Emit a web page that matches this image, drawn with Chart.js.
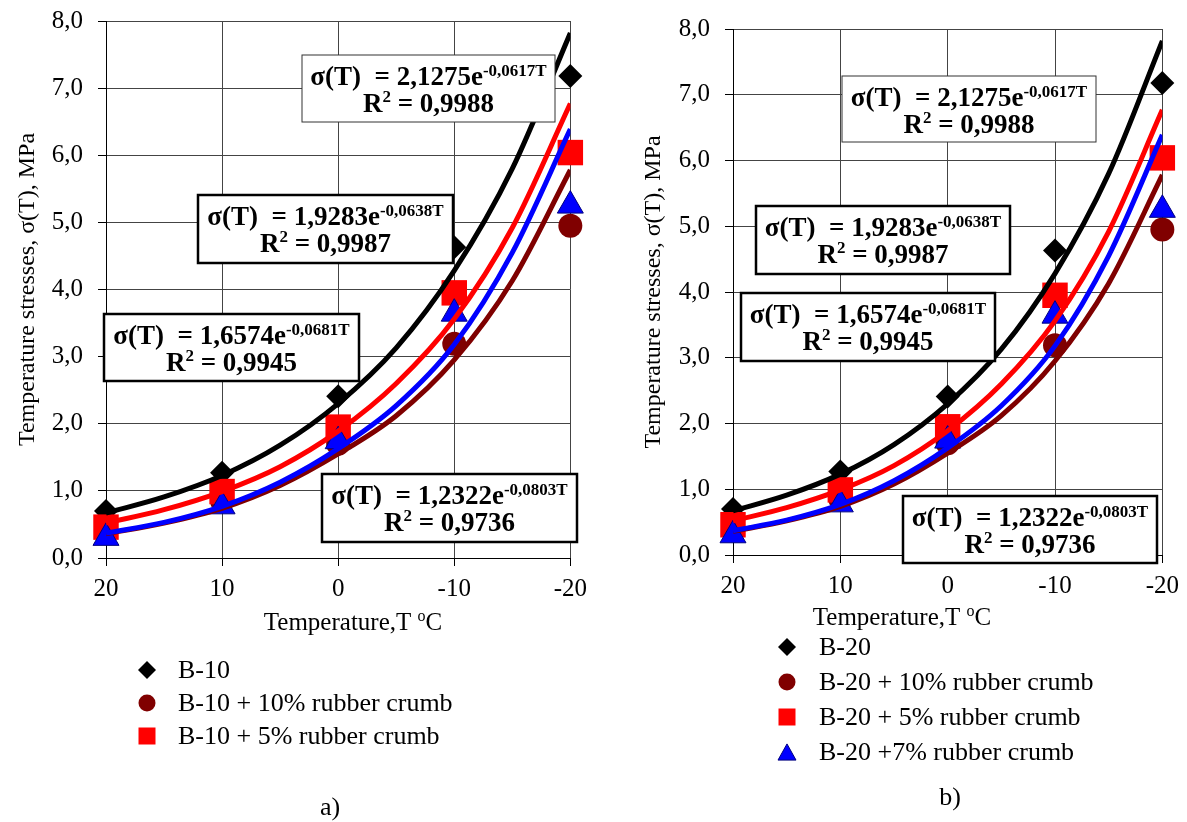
<!DOCTYPE html>
<html><head><meta charset="utf-8">
<script src="https://cdn.jsdelivr.net/npm/chart.js@4.4.0/dist/chart.umd.min.js"></script>
<style>
html,body{margin:0;padding:0;background:#fff;}
#wrap{position:relative;width:1187px;height:822px;overflow:hidden;background:#fff;}
.pane{position:absolute;top:0;height:822px;}
</style></head><body>
<div id="wrap">
<div class="pane" style="left:0;width:595px"><canvas id="cA"></canvas></div>
<div class="pane" style="left:595px;width:592px"><canvas id="cB"></canvas></div>
</div>
<script>
// ---- data ----
const temperatures = [20, 10, 0, -10, -20];
const stressBase   = [0.70, 1.27, 2.41, 4.63, 7.18];
const stress10     = [0.40, 0.85, 1.70, 3.19, 4.95];
const stress5      = [0.46, 0.99, 1.95, 3.95, 6.04];
const stress7      = [0.30, 0.77, 1.74, 3.64, 5.25];

const trendTemps = [20, 15, 10, 5, 0, -5, -10, -15, -20];
const trendBase  = [0.67, 0.91, 1.23, 1.68, 2.30, 3.13, 4.28, 5.80, 7.82];
const trend10    = [0.36, 0.52, 0.74, 1.08, 1.55, 2.12, 2.95, 4.13, 5.78];
const trend5     = [0.52, 0.72, 0.99, 1.36, 1.89, 2.60, 3.56, 4.92, 6.77];
const trend7     = [0.37, 0.53, 0.77, 1.13, 1.63, 2.27, 3.18, 4.55, 6.39];

const xTickValues = [20, 10, 0, -10, -20];
const yTickValues = [0, 1, 2, 3, 4, 5, 6, 7, 8];

const eqCoefs = ['2,1275', '1,9283', '1,6574', '1,2322'];
const eqExps  = ['-0,0617', '-0,0638', '-0,0681', '-0,0803'];
const eqR2    = ['0,9988', '0,9987', '0,9945', '0,9736'];

const legendA = ['B-10', 'B-10 + 10% rubber crumb', 'B-10 + 5% rubber crumb'];
const legendB = ['B-20', 'B-20 + 10% rubber crumb', 'B-20 + 5% rubber crumb', 'B-20 +7% rubber crumb'];

// ---- helpers ----
const FONT = '"Liberation Serif", "Times New Roman", serif';
const pts = (xs, ys) => xs.map((x, i) => ({x: x, y: ys[i]}));

function drawMarker(ctx, style, x, y, r, fill, stroke, lw) {
  ctx.save();
  ctx.beginPath();
  if (style === 'rectRot') {
    ctx.moveTo(x, y - r); ctx.lineTo(x + r, y); ctx.lineTo(x, y + r); ctx.lineTo(x - r, y); ctx.closePath();
  } else if (style === 'circle') {
    ctx.arc(x, y, r, 0, Math.PI * 2);
  } else if (style === 'rect') {
    ctx.rect(x - r, y - r, 2 * r, 2 * r);
  } else if (style === 'triangle') {
    const h = r * 1.8;
    ctx.moveTo(x, y - h / 2); ctx.lineTo(x + r, y + h / 2); ctx.lineTo(x - r, y + h / 2); ctx.closePath();
  }
  ctx.fillStyle = fill; ctx.fill();
  if (lw) { ctx.lineWidth = lw; ctx.strokeStyle = stroke; ctx.stroke(); }
  ctx.restore();
}

const decorPlugin = {
  id: 'decor',
  afterDraw(chart) {
    const o = chart.options.plugins.decor;
    const ctx = chart.ctx;
    const ox = o.offsetX;
    ctx.save();
    // equation boxes
    o.boxes.forEach((b, i) => {
      const x1 = b[0] - ox, y1 = b[1], x2 = b[2] - ox, y2 = b[3], lw = b[4];
      ctx.fillStyle = '#fff';
      ctx.fillRect(x1, y1, x2 - x1, y2 - y1);
      ctx.lineWidth = lw;
      ctx.strokeStyle = lw > 1.5 ? '#000' : '#333';
      ctx.strokeRect(x1, y1, x2 - x1, y2 - y1);
      const cx = (x1 + x2) / 2;
      ctx.fillStyle = '#000';
      ctx.textBaseline = 'alphabetic';
      ctx.textAlign = 'left';
      const main = 'σ(T)  = ' + eqCoefs[i] + 'e';
      const sup = eqExps[i] + 'T';
      ctx.font = 'bold 27px ' + FONT;
      const wMain = ctx.measureText(main).width;
      ctx.font = 'bold 17px ' + FONT;
      const wSup = ctx.measureText(sup).width;
      let sx = cx - (wMain + wSup) / 2;
      ctx.font = 'bold 27px ' + FONT;
      ctx.fillText(main, sx, y1 + 30);
      ctx.font = 'bold 17px ' + FONT;
      ctx.fillText(sup, sx + wMain, y1 + 21);
      // R2 line
      ctx.font = 'bold 27px ' + FONT;
      const wR = ctx.measureText('R').width;
      const rest = ' = ' + eqR2[i];
      const wRest = ctx.measureText(rest).width;
      ctx.font = 'bold 17px ' + FONT;
      const w2 = ctx.measureText('2').width;
      sx = cx - (wR + w2 + wRest) / 2;
      ctx.font = 'bold 27px ' + FONT;
      ctx.fillText('R', sx, y1 + 57);
      ctx.fillText(rest, sx + wR + w2, y1 + 57);
      ctx.font = 'bold 17px ' + FONT;
      ctx.fillText('2', sx + wR, y1 + 47);
    });
    // x-axis title with superscript
    {
      const t = o.xTitle;
      const a = 'Temperature,T ', s = 'o', c = 'C';
      ctx.font = '25px ' + FONT;
      const wa = ctx.measureText(a).width, wc = ctx.measureText(c).width;
      ctx.font = '16px ' + FONT;
      const ws = ctx.measureText(s).width;
      let x = t[0] - ox - (wa + ws + wc) / 2;
      ctx.textBaseline = 'alphabetic'; ctx.textAlign = 'left'; ctx.fillStyle = '#000';
      ctx.font = '25px ' + FONT;
      ctx.fillText(a, x, t[1] + 8);
      ctx.fillText(c, x + wa + ws, t[1] + 8);
      ctx.font = '16px ' + FONT;
      ctx.fillText(s, x + wa, t[1] - 1);
    }
    // legend from datasets
    const L = o.legend;
    const markerSets = chart.data.datasets.filter(d => d.inLegend);
    markerSets.forEach((d, i) => {
      const y = L.y0 + i * L.dy;
      const mx = L.mx - ox;
      const r = d.legendR;
      drawMarker(ctx, d.pointStyle, mx, y, r, d.backgroundColor, d.borderColor, d.pointStyle === 'triangle' ? 1 : 0);
      ctx.font = '26px ' + FONT;
      ctx.fillStyle = '#000';
      ctx.textAlign = 'left'; ctx.textBaseline = 'middle';
      ctx.fillText(d.label, L.tx - ox, y + 1);
    });
    // caption
    ctx.font = '26px ' + FONT;
    ctx.textAlign = 'center'; ctx.textBaseline = 'middle';
    ctx.fillText(o.caption[0], o.caption[1] - ox, o.caption[2]);
    ctx.restore();
  }
};

function makeChart(id, cfg) {
  const labels = cfg.labels;
  const datasets = [
    {label: labels[0], data: pts(temperatures, stressBase), pointStyle: 'rectRot', pointRadius: 12,
     backgroundColor: '#000', borderColor: '#000', borderWidth: 0, order: 8, clip: false,
     inLegend: true, legendR: 9},
    {label: labels[1], data: pts(temperatures, stress10), pointStyle: 'circle', pointRadius: 12,
     backgroundColor: '#800000', borderColor: '#800000', borderWidth: 0, order: 7, clip: false,
     inLegend: true, legendR: 8.5},
    {label: labels[2], data: pts(temperatures, stress5), pointStyle: 'rect', pointRadius: 18,
     backgroundColor: '#FF0000', borderColor: '#FF0000', borderWidth: 0, order: 6, clip: false,
     inLegend: true, legendR: 8.5},
    {label: labels[3] || 'B-10 +7% rubber crumb', data: pts(temperatures, stress7), pointStyle: 'triangle', pointRadius: 15,
     backgroundColor: '#0000FF', borderColor: '#000080', borderWidth: 1, order: 5, clip: false,
     inLegend: labels.length > 3, legendR: 9},
    {label: 'trend base', data: pts(trendTemps, trendBase), showLine: true, pointRadius: 0,
     borderColor: '#000', borderWidth: 5, cubicInterpolationMode: 'monotone', order: 4},
    {label: 'trend 10', data: pts(trendTemps, trend10), showLine: true, pointRadius: 0,
     borderColor: '#7F0000', borderWidth: 5, cubicInterpolationMode: 'monotone', order: 3},
    {label: 'trend 5', data: pts(trendTemps, trend5), showLine: true, pointRadius: 0,
     borderColor: '#FF0000', borderWidth: 5, cubicInterpolationMode: 'monotone', order: 2},
    {label: 'trend 7', data: pts(trendTemps, trend7), showLine: true, pointRadius: 0,
     borderColor: '#0000FF', borderWidth: 5, cubicInterpolationMode: 'monotone', order: 1}
  ];
  return new Chart(document.getElementById(id), {
    type: 'scatter',
    data: {datasets},
    plugins: [decorPlugin],
    options: {
      responsive: true, maintainAspectRatio: false, animation: false,
      layout: {padding: cfg.padding},
      plugins: {
        legend: {display: false}, tooltip: {enabled: false},
        decor: cfg.decor
      },
      scales: {
        x: {
          type: 'linear', min: -20, max: 20, reverse: true,
          afterBuildTicks: s => { s.ticks = xTickValues.map(v => ({value: v})); },
          afterFit: s => { s.height = 40; },
          ticks: {color: '#000', font: {family: FONT, size: 25}, padding: 8, maxRotation: 0,
                  callback: v => String(v)},
          grid: {color: '#444', lineWidth: 1, tickLength: 8, tickColor: '#000'},
          border: {color: '#000', width: 1}
        },
        y: {
          min: 0, max: 8,
          afterBuildTicks: s => { s.ticks = yTickValues.map(v => ({value: v})); },
          afterFit: s => { s.width = cfg.yWidth; s.paddingTop = 4; s.paddingBottom = 4; },
          ticks: {color: '#000', font: {family: FONT, size: 25}, padding: 15,
                  callback: v => v.toFixed(1).replace('.', ',')},
          grid: {color: '#444', lineWidth: 1, tickLength: 8, tickColor: '#000'},
          border: {color: '#000', width: 1},
          title: {display: true, text: 'Temperature stresses, σ(T), MPa', color: '#000',
                  font: {family: FONT, size: 24}, padding: {top: cfg.yTitlePad, bottom: 0}}
        }
      }
    }
  });
}

makeChart('cA', {
  labels: legendA,
  yWidth: 106,
  yTitlePad: 13,
  padding: {left: 0, right: 15, top: 21, bottom: 224},
  decor: {
    offsetX: 0,
    boxes: [[302, 55, 555, 122, 1], [198, 195, 453, 263, 2.5], [104, 314, 359, 381, 2.5], [322, 474, 577, 542, 2.5]],
    xTitle: [353, 622],
    legend: {mx: 147, tx: 178, y0: 670, dy: 33},
    caption: ['a)', 330, 808]
  }
});

makeChart('cB', {
  labels: legendB,
  yWidth: 138,
  yTitlePad: 44,
  padding: {left: 0, right: 20, top: 29, bottom: 227},
  decor: {
    offsetX: 595,
    boxes: [[842, 76, 1096, 142, 1], [756, 206, 1010, 274, 2.5], [741, 293, 995, 361, 2.5], [903, 496, 1157, 563, 2.5]],
    xTitle: [902, 617],
    legend: {mx: 787, tx: 819, y0: 647, dy: 35},
    caption: ['b)', 950, 798]
  }
});
</script>
</body></html>
